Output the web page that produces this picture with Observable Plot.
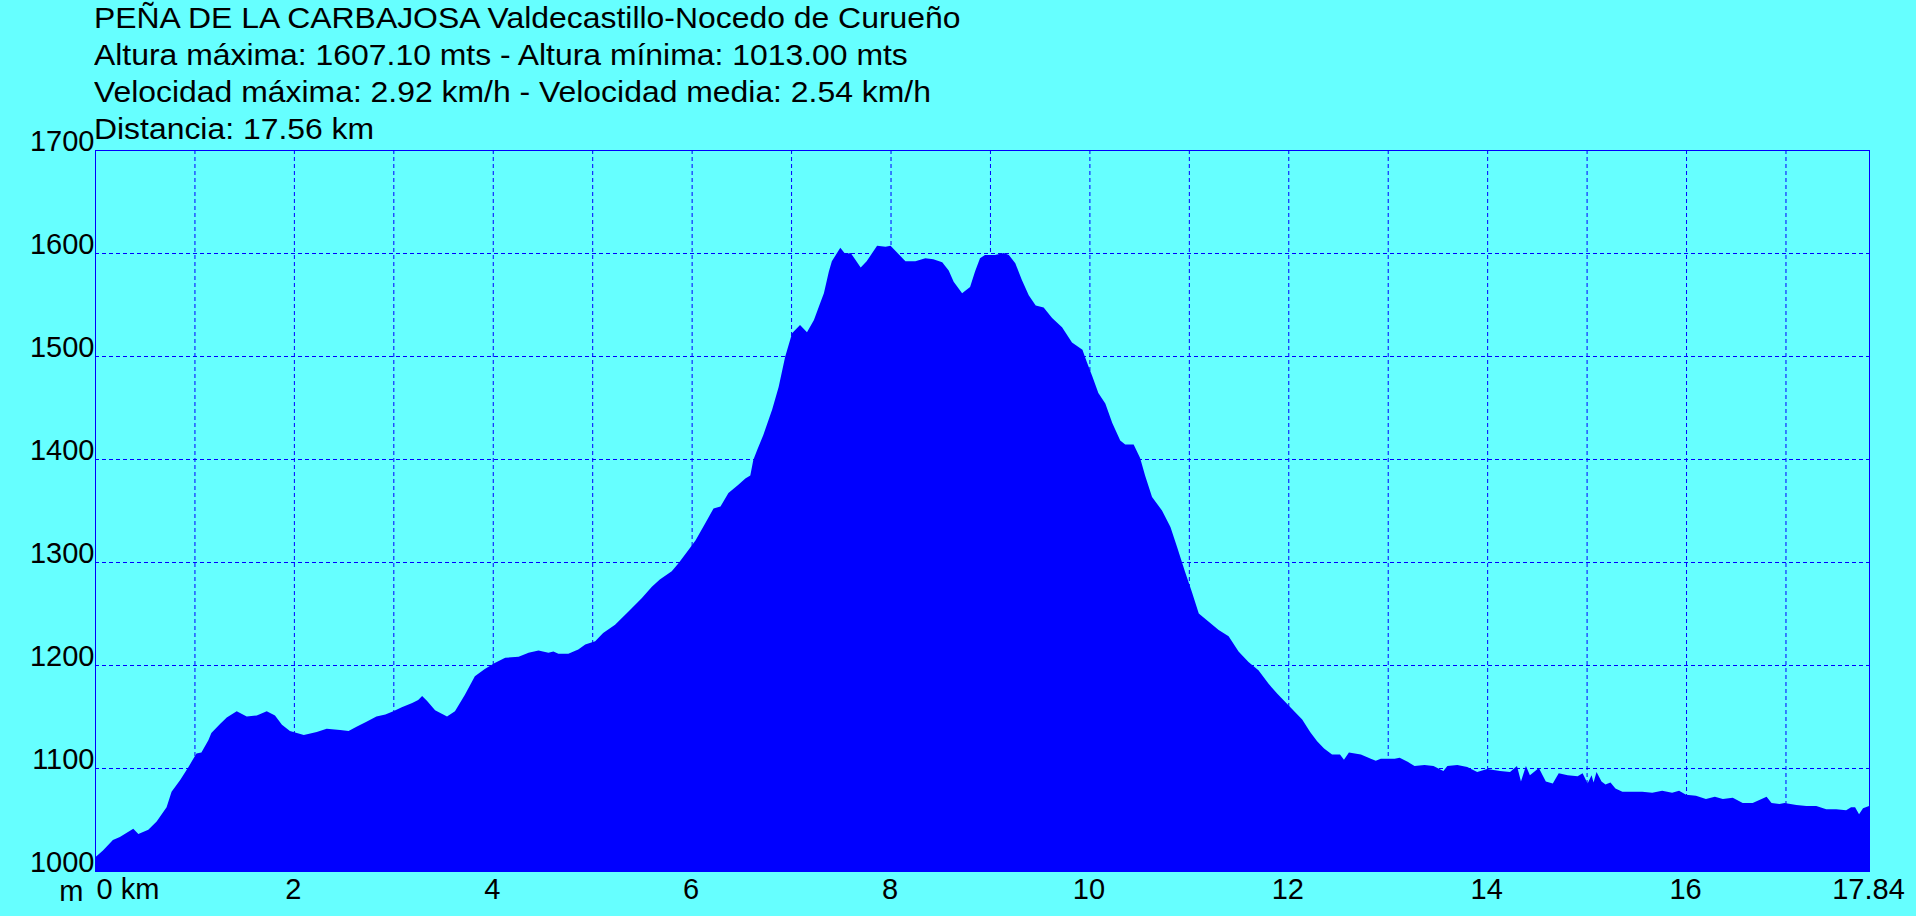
<!DOCTYPE html>
<html><head><meta charset="utf-8">
<script src="https://cdn.jsdelivr.net/npm/d3@7"></script>
<script src="https://cdn.jsdelivr.net/npm/@observablehq/plot@0.6"></script>
<style>
html,body{margin:0;padding:0;background:#66ffff;overflow:hidden;}
#wrap{position:relative;width:1916px;height:916px;}
#chart{position:absolute;left:0;top:0;}
#title{position:absolute;left:94px;top:0;font-family:"Liberation Sans",Arial,sans-serif;font-size:29px;line-height:37px;color:#000;transform:scaleX(1.1);transform-origin:0 0;white-space:nowrap;}
</style></head><body>
<div id="wrap"><div id="chart"></div><div id="title"></div></div>
<script>
const titleLines = [
  "PEÑA DE LA CARBAJOSA Valdecastillo-Nocedo de Curueño",
  "Altura máxima: 1607.10 mts - Altura mínima: 1013.00 mts",
  "Velocidad máxima: 2.92 km/h - Velocidad media: 2.54 km/h",
  "Distancia: 17.56 km"
];

const distKm = [0.00,0.08,0.18,0.25,0.385,0.436,0.536,0.62,0.72,0.77,0.855,0.94,1.02,1.07,1.14,1.17,1.26,1.325,1.425,1.526,1.627,1.727,1.81,1.88,1.96,2.1,2.23,2.33,2.465,2.55,2.63,2.73,2.83,2.92,3.0,3.085,3.19,3.25,3.29,3.34,3.42,3.54,3.62,3.72,3.82,3.92,4.02,4.125,4.26,4.36,4.46,4.56,4.61,4.66,4.76,4.86,4.93,5.03,5.11,5.23,5.365,5.5,5.6,5.68,5.8,5.87,5.97,6.04,6.14,6.22,6.29,6.37,6.47,6.54,6.59,6.62,6.66,6.72,6.81,6.875,6.94,7.01,7.09,7.16,7.23,7.28,7.33,7.38,7.41,7.495,7.545,7.6,7.7,7.76,7.865,7.95,8.0,8.08,8.15,8.25,8.35,8.43,8.52,8.585,8.635,8.72,8.8,8.85,8.9,8.95,9.05,9.14,9.19,9.255,9.32,9.39,9.46,9.54,9.625,9.725,9.825,9.93,9.975,10.03,10.09,10.16,10.23,10.31,10.36,10.445,10.51,10.56,10.63,10.73,10.815,10.88,10.96,11.03,11.1,11.2,11.3,11.4,11.5,11.6,11.7,11.8,11.89,11.97,12.05,12.14,12.22,12.29,12.36,12.44,12.52,12.56,12.61,12.73,12.83,12.88,12.93,13.07,13.12,13.2,13.27,13.37,13.46,13.56,13.6,13.7,13.8,13.9,14.0,14.13,14.23,14.3,14.34,14.39,14.43,14.52,14.59,14.66,14.72,14.81,14.91,14.96,15.01,15.05,15.07,15.1,15.15,15.19,15.24,15.29,15.36,15.46,15.56,15.66,15.76,15.86,15.93,16.0,16.1,16.2,16.29,16.37,16.47,16.57,16.67,16.76,16.81,16.86,16.94,16.99,17.11,17.21,17.31,17.41,17.51,17.61,17.66,17.7,17.74,17.78,17.84];

const elevM = [1013,1020,1030,1033,1041,1036,1040,1048,1062,1077,1088,1101,1114,1115,1127,1134,1143,1149,1155,1150,1151,1155,1151,1142,1136,1132,1135,1138,1137,1136,1140,1145,1150,1152,1155,1159,1163,1166,1170,1165,1156,1150,1155,1171,1189,1196,1202,1207,1208,1212,1214,1212,1213,1211,1211,1215,1220,1223,1231,1239,1252,1265,1276,1283,1291,1299,1312,1321,1338,1352,1354,1367,1375,1381,1384,1399,1409,1423,1448,1470,1499,1522,1530,1523,1535,1548,1561,1582,1592,1605,1599,1600,1586,1592,1607,1606,1607,1599,1592,1592,1595,1594,1591,1583,1572,1561,1567,1582,1595,1598,1598,1600,1598,1590,1574,1559,1549,1547,1537,1528,1513,1506,1494,1480,1464,1454,1435,1418,1414,1414,1401,1384,1363,1350,1334,1315,1291,1271,1250,1242,1234,1228,1213,1203,1195,1182,1172,1164,1156,1147,1135,1126,1119,1113,1113,1108,1115,1113,1109,1107,1109,1109,1110,1106,1102,1103,1102,1097,1102,1103,1101,1096,1099,1097,1096,1102,1087,1102,1093,1100,1087,1085,1095,1093,1092,1095,1085,1093,1086,1096,1087,1084,1086,1080,1077,1077,1077,1076,1078,1076,1078,1074,1073,1070,1072,1070,1071,1066,1066,1070,1072,1066,1065,1066,1064,1063,1063,1060,1060,1059,1062,1062,1055,1061,1063];

const gridKm = [1,2,3,4,5,6,7,8,9,10,11,12,13,14,15,16,17];
const gridElev = [1100,1200,1300,1400,1500,1600];
const yTicks = [1000,1100,1200,1300,1400,1500,1600,1700];
const xTicks = [2,4,6,8,10,12,14,16,17.84];
const xTickLabels = ["2","4","6","8","10","12","14","16","17.84"];
const xStartLabel = "0 km";
const yUnitLabel = "m";

document.getElementById("title").innerHTML = titleLines.map(t => `<div>${t}</div>`).join("");

const rows = distKm.map((k, i) => ({km: k, elev: elevM[i]}));
const blue = "#0000ff";
const font = "'Liberation Sans', Arial, sans-serif";

const chart = Plot.plot({
  width: 1916, height: 916,
  marginLeft: 95, marginRight: 47, marginTop: 150, marginBottom: 45,
  style: {background: "#66ffff", fontFamily: font, fontSize: "29px", color: "#000", overflow: "visible"},
  x: {domain: [0, 17.84], axis: null},
  y: {domain: [1000, 1700], axis: null},
  marks: [
    Plot.ruleX(gridKm, {stroke: blue, strokeWidth: 1, strokeDasharray: "4,3"}),
    Plot.ruleY(gridElev, {stroke: blue, strokeWidth: 1, strokeDasharray: "4,3"}),
    Plot.areaY(rows, {x: "km", y1: 1000, y2: "elev", fill: blue, curve: "linear"}),
    Plot.frame({stroke: blue, strokeWidth: 1}),
    Plot.text(yTicks, {x: 0, y: d => d, text: d => String(d), textAnchor: "end", lineAnchor: "bottom", dx: -1, fill: "#000", fontSize: 29}),
    Plot.text(xTicks, {x: d => d, y: 1000, text: (d, i) => xTickLabels[i], textAnchor: "middle", lineAnchor: "bottom", dy: 27, dx: -1, fill: "#000", fontSize: 29}),
    Plot.text([0], {x: d => d, y: 1000, text: () => xStartLabel, textAnchor: "start", lineAnchor: "bottom", dy: 27, dx: 1, fill: "#000", fontSize: 29}),
    Plot.text([0], {x: d => d, y: 1000, text: () => yUnitLabel, textAnchor: "end", lineAnchor: "bottom", dy: 29, dx: -12, fill: "#000", fontSize: 29})
  ]
});
document.getElementById("chart").appendChild(chart);
</script>
</body></html>
